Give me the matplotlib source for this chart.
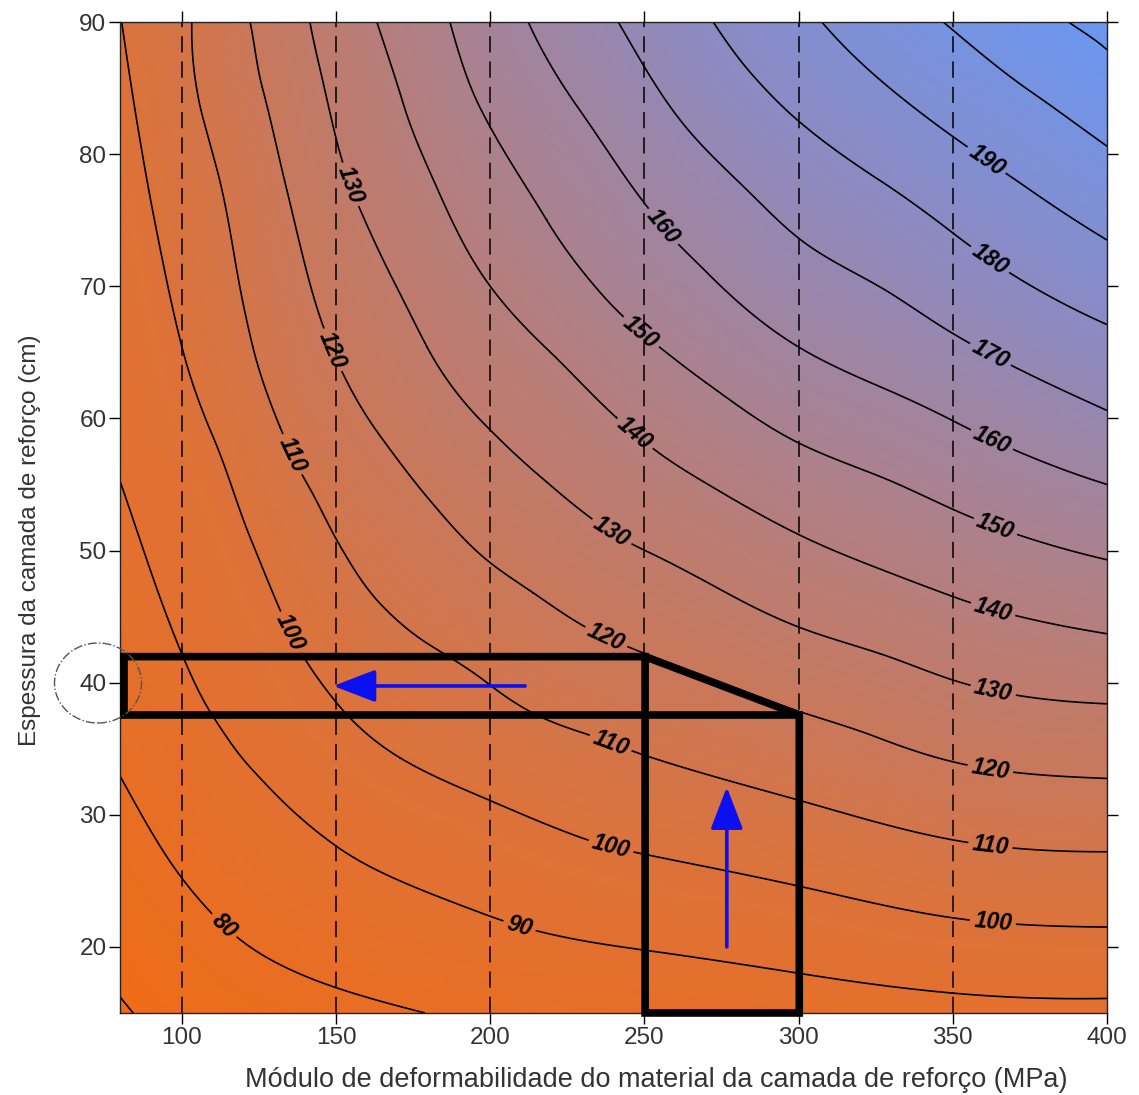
import numpy as np
import matplotlib
matplotlib.use("Agg")
import matplotlib.pyplot as plt
import matplotlib.tri as mtri
from matplotlib.colors import LinearSegmentedColormap
from matplotlib.patches import Ellipse, FancyArrowPatch

plt.rcParams["font.family"] = ["Liberation Sans", "DejaVu Sans"]

# contour lines: modulus E (MPa) and thickness h (cm) per level
levels = [70, 80, 90, 100, 110, 120, 130, 140, 150, 160, 170, 180, 190, 200, 210]

e70 = [80.0, 84.2]
h70 = [16.2, 15.0]
e80 = [80.0, 89.6, 100.0, 110.2, 127.5, 150.2, 178.8]
h80 = [32.9, 28.9, 25.2, 22.4, 19.2, 16.9, 15.0]
e90 = [80.0, 88.6, 99.4, 110.2, 122.1, 138.3, 150.2, 170.7, 196.7, 217.1, 250.2, 300.2, 350.2, 400.0]
h90 = [55.2, 49.3, 42.5, 37.4, 33.6, 29.8, 27.6, 25.0, 22.6, 21.1, 19.75, 18.0, 16.5, 16.1]
e100 = [80.45, 85.3, 91.1, 100.0, 110.1, 122.1, 133.5, 149.7, 170.8, 196.7, 229.1, 250.2, 300.1, 350.0, 400.0]
h100 = [90.0, 82.6, 75.0, 65.4, 58.6, 51.0, 44.6, 38.6, 34.3, 31.4, 28.3, 27.0, 24.6, 22.2, 21.5]
e110 = [103.2, 111.4, 117.2, 123.0, 131.8, 140.5, 150.2, 164.2, 181.4, 198.9, 213.8, 230.0, 250.1, 300.1, 350.0, 400.0]
h110 = [90.0, 78.8, 72.0, 65.4, 59.35, 55.1, 50.8, 46.0, 42.7, 40.0, 37.7, 36.2, 34.5, 31.1, 28.1, 27.2]
e120 = [122.1, 126.0, 133.8, 144.3, 151.2, 164.2, 180.4, 198.8, 213.9, 230.2, 250.2, 275.0, 300.4, 325.0, 350.2, 400.0]
h120 = [90.0, 85.1, 77.5, 68.0, 63.9, 58.7, 53.8, 49.3, 46.8, 44.3, 42.2, 40.0, 37.8, 35.9, 34.0, 32.75]
e130 = [141.5, 146.1, 150.3, 157.8, 169.5, 179.5, 196.7, 216.2, 237.9, 250.2, 275.0, 300.1, 326.3, 350.0, 400.0]
h130 = [90.0, 85.1, 80.9, 75.8, 70.0, 65.4, 59.9, 55.6, 51.6, 50.0, 47.0, 44.2, 42.2, 40.2, 38.4]
e140 = [163.2, 171.8, 182.6, 196.7, 218.2, 240.7, 250.2, 275.0, 300.1, 326.4, 350.2, 400.0]
h140 = [90.0, 83.8, 77.5, 71.1, 65.3, 60.1, 58.2, 54.4, 51.2, 48.6, 46.5, 43.7]
e150 = [186.9, 196.7, 218.3, 235.0, 250.0, 270.0, 299.5, 326.4, 350.2, 400.0]
h150 = [90.0, 83.5, 75.0, 69.7, 66.3, 62.7, 58.2, 55.6, 53.1, 49.3]
e160 = [212.3, 229.1, 243.1, 256.0, 270.0, 300.0, 326.4, 350.2, 400.0]
h160 = [90.0, 83.3, 78.5, 74.5, 71.1, 65.4, 62.4, 59.8, 55.0]
e170 = [241.5, 261.5, 283.2, 300.2, 326.0, 350.2, 400.0]
h170 = [90.0, 82.6, 77.3, 73.6, 70.0, 66.4, 60.6]
e180 = [272.3, 285.0, 300.0, 326.4, 350.2, 400.0]
h180 = [90.0, 86.0, 82.5, 78.0, 74.0, 67.1]
e190 = [307.5, 327.5, 350.2, 375.0, 400.0]
h190 = [90.0, 85.4, 81.3, 77.3, 73.5]
e200 = [346.9, 376.1, 400.0]
h200 = [90.0, 84.6, 80.6]
e210 = [387.5, 400.0]
h210 = [90.0, 87.9]

# values estimated at the plot border (corners and bottom edge)
edge_e = [80.0, 80.0, 400.0, 400.0, 200.0, 250.0, 300.0, 350.0]
edge_h = [15.0, 90.0, 90.0, 15.0, 15.0, 15.0, 15.0, 15.0]
edge_v = [69.3, 99.7, 211.5, 88.0, 81.2, 83.5, 85.5, 87.4]

# label anchor points (E, h) as placed in the figure
label_pos = [(154.5, 77.7), (149.0, 65.2), (135.0, 57.2), (133.5, 43.6), (114.0, 21.7),
             (209.6, 21.7), (256.0, 74.5), (249.5, 66.7), (245.3, 58.4), (238.8, 51.2),
             (237.1, 43.2), (238.8, 35.3), (238.8, 27.3),
             (361.1, 79.6), (361.4, 71.8), (362.1, 64.8), (362.7, 58.4), (363.6, 51.7),
             (363.0, 45.5), (363.0, 39.3), (362.1, 33.4), (362.1, 27.5), (363.0, 21.9)]

ref_lines = [100, 150, 200, 250, 300, 350]

# thick outline of the study region
box1_e = [81.2, 250.2, 300.2, 300.2, 250.2, 250.2]
box1_h = [41.97, 41.97, 37.55, 15.0, 15.0, 41.97]
box2_e = [81.2, 81.2, 300.2]
box2_h = [41.97, 37.55, 37.55]

arrow_h = ((211.3, 39.75), (149.1, 39.75))
arrow_v = ((276.7, 20.0), (276.7, 32.1))

all_e = [e70, e80, e90, e100, e110, e120, e130, e140, e150, e160, e170, e180, e190, e200, e210]
all_h = [h70, h80, h90, h100, h110, h120, h130, h140, h150, h160, h170, h180, h190, h200, h210]

E, H, V = [], [], []
for lv, ee, hh in zip(levels, all_e, all_h):
    E += ee
    H += hh
    V += [lv] * len(ee)
E = np.array(E + edge_e)
H = np.array(H + edge_h)
V = np.array(V + edge_v, dtype=float)

# work in axes-normalised coords (screen shape), smooth with matplotlib's refiner
tn = mtri.Triangulation((E - 80) / 320, (H - 15) / 75)
interp = mtri.CubicTriInterpolator(tn, V, kind="min_E")
tn_r, V_r = mtri.UniformTriRefiner(tn).refine_field(V, triinterpolator=interp, subdiv=4)
tri = mtri.Triangulation(tn_r.x * 320 + 80, tn_r.y * 75 + 15, triangles=tn_r.triangles)

cmap = LinearSegmentedColormap.from_list(
    "lar", ["#F26B12", "#DA733E", "#B67E7C", "#8E8AC0", "#6898F5"])

fig = plt.figure(figsize=(11.39, 10.95), dpi=100)
ax = fig.add_axes([0.1056, 0.0749, 0.8663, 0.9050])

ax.tripcolor(tri, V_r, shading="gouraud", cmap=cmap, vmin=65, vmax=215, zorder=0)
cs = ax.tricontour(tri, V_r, levels=levels, colors="black",
                   linewidths=1.2, zorder=2)
lbls = ax.clabel(cs, manual=label_pos, fmt=lambda v: f"{v:.0f}", inline=True,
                 inline_spacing=4, fontsize=16.5)
for t in lbls:
    t.set_fontweight("bold")
    t.set_fontstyle("italic")

for x in ref_lines:
    ax.axvline(x, color="black", lw=1.3, dashes=(9, 5), alpha=0.85, zorder=3)

ax.plot(box1_e, box1_h, color="black", lw=5.5, solid_joinstyle="miter",
        solid_capstyle="projecting", clip_on=False, zorder=5)
ax.plot(box2_e, box2_h, color="black", lw=5.5, solid_joinstyle="miter",
        solid_capstyle="projecting", clip_on=False, zorder=5)

for (p0, p1) in (arrow_h, arrow_v):
    ax.add_patch(FancyArrowPatch(p0, p1, arrowstyle="-|>,head_length=1.3,head_width=0.5",
                                 mutation_scale=20, color="#0A10F0", lw=2.6,
                                 shrinkA=0, shrinkB=0, zorder=6))

ax.set_xlim(80, 400)
ax.set_ylim(15, 90)
ax.set_xticks([100, 150, 200, 250, 300, 350, 400])
ax.set_yticks([20, 30, 40, 50, 60, 70, 80, 90])
ax.tick_params(direction="out", length=8, width=1, top=True, right=True,
               labelsize=17.5, labelcolor="#333333", pad=2)
for s in ax.spines.values():
    s.set_linewidth(1.0)
    s.set_color("#222222")

fig.text(0.5764, 0.0137, "Módulo de deformabilidade do material da camada de reforço (MPa)",
         ha="center", va="center", fontsize=19.5, color="#333333")
fig.text(0.0263, 0.507, "Espessura da camada de reforço (cm)", rotation=90,
         ha="center", va="center", fontsize=17.5, color="#333333")

fig.add_artist(Ellipse((98 / 1139, 1 - 683 / 1095), 87 / 1139, 80 / 1095,
                       transform=fig.transFigure, fill=False, ls="-.", lw=1.0,
                       color="#555555", zorder=10))

fig.savefig("out.png", dpi=100)
